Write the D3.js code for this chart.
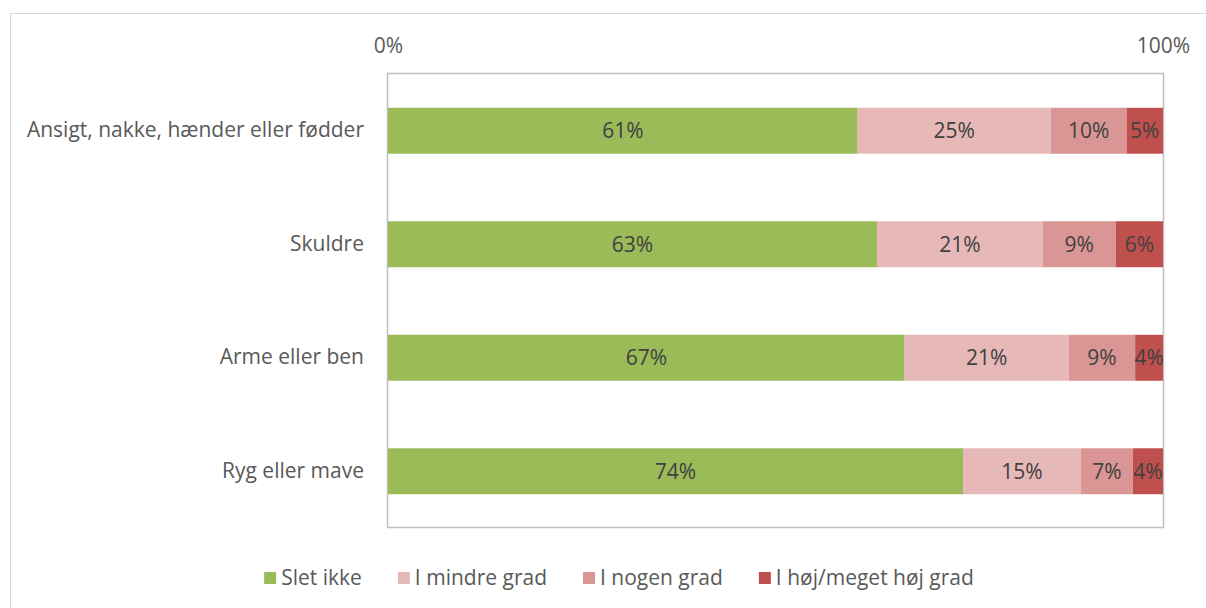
<!DOCTYPE html>
<html>
<head>
<meta charset="utf-8">
<script src="https://cdn.jsdelivr.net/npm/d3@7"></script>
<style>
  body { margin: 0; background: #fff; }
  text { font-family: "Open Sans", sans-serif; fill: #595959; }
</style>
</head>
<body>
<svg id="chart"></svg>
<script>
const categories = ["Ansigt, nakke, hænder eller fødder", "Skuldre", "Arme eller ben", "Ryg eller mave"];
const series = ["Slet ikke", "I mindre grad", "I nogen grad", "I høj/meget høj grad"];
const sletIkke = [60.6, 63.1, 66.8, 74.2];
const iMindreGrad = [24.9, 21.4, 21.2, 15.2];
const iNogenGrad = [9.8, 9.4, 8.6, 6.7];
const iHoejGrad = [4.7, 6.1, 3.6, 3.9];
const xTicks = [0, 1];
const colors = ["#9BBB59", "#E6B9B8", "#D99694", "#C0504D"];

const width = 1206, height = 608;
const margin = { left: 388, right: 43, top: 73, bottom: 81 };
const fs = "21px";

const svg = d3.select("#chart").attr("width", width).attr("height", height);

// outer chart frame
svg.append("rect")
    .attr("x", 10.5).attr("y", 13.5)
    .attr("width", width + 20).attr("height", height + 20)
    .attr("fill", "none").attr("stroke", "#D9D9D9");

// build rows, normalised to 100%
const values = [sletIkke, iMindreGrad, iNogenGrad, iHoejGrad];
const rows = categories.map((c, i) => {
    const row = { cat: c };
    const total = d3.sum(values, v => v[i]);
    series.forEach((s, j) => {
        row[s] = values[j][i] / total;
        row[s + "_raw"] = values[j][i];
    });
    return row;
});
const stack = d3.stack().keys(series)(rows);

const x = d3.scaleLinear().domain([0, 1]).range([margin.left, width - margin.right]);
const y = d3.scaleBand().domain(categories)
    .range([margin.top + 1, height - margin.bottom + 1])
    .paddingInner(0.595).paddingOuter(0.2975);

// plot border
svg.append("rect")
    .attr("x", x(0) - 0.5).attr("y", margin.top + 0.5)
    .attr("width", x(1) - x(0) + 1).attr("height", height - margin.bottom - margin.top)
    .attr("fill", "none").attr("stroke", "#BFBFBF").attr("stroke-width", 1.5);

const layer = svg.append("g").selectAll("g")
    .data(stack)
    .join("g")
    .attr("fill", (d, i) => colors[i]);

layer.selectAll("rect")
    .data(d => d)
    .join("rect")
    .attr("x", d => x(d[0]))
    .attr("y", d => y(d.data.cat))
    .attr("width", d => x(d[1]) - x(d[0]))
    .attr("height", y.bandwidth());

layer.selectAll("text")
    .data(d => d.map(p => ({ p, key: d.key })))
    .join("text")
    .attr("x", d => (x(d.p[0]) + x(d.p[1])) / 2)
    .attr("y", d => y(d.p.data.cat) + y.bandwidth() / 2)
    .attr("dy", "0.35em")
    .attr("text-anchor", "middle")
    .style("font-size", fs)
    .style("fill", "#404040")
    .text(d => Math.round(d.p.data[d.key + "_raw"]) + "%");

// top axis
const xAxis = d3.axisTop(x).tickValues(xTicks).tickFormat(d3.format(".0%")).tickSize(0).tickPadding(0);
const gx = svg.append("g").attr("transform", `translate(0,51)`).call(xAxis);
gx.select(".domain").remove();
gx.selectAll("text").style("font-size", fs).style("fill", "#595959").attr("dy", "0.1em")
    .style("font-family", "'Open Sans', sans-serif");

// category labels
const yAxis = d3.axisLeft(y).tickSize(0).tickPadding(24);
const gy = svg.append("g").attr("transform", `translate(${margin.left},0)`).call(yAxis);
gy.select(".domain").remove();
gy.selectAll("text").style("font-size", fs).style("fill", "#595959")
    .style("font-family", "'Open Sans', sans-serif");

// legend
const legend = svg.append("g").attr("transform", "translate(0,578)");
const items = legend.selectAll("g").data(series).join("g");
items.append("rect")
    .attr("width", 12).attr("height", 12).attr("y", -6)
    .attr("fill", (d, i) => colors[i]);
items.append("text")
    .attr("x", 17).attr("dy", "0.35em")
    .style("font-size", fs)
    .text(d => d);
let pos = 0;
const offsets = [];
const gap = 36;
items.each(function () {
    offsets.push(pos);
    pos += 17 + this.querySelector("text").getComputedTextLength() + gap;
});
const totalW = pos - gap;
const start = 619 - totalW / 2;
items.attr("transform", (d, i) => `translate(${start + offsets[i]},0)`);
</script>
</body>
</html>
